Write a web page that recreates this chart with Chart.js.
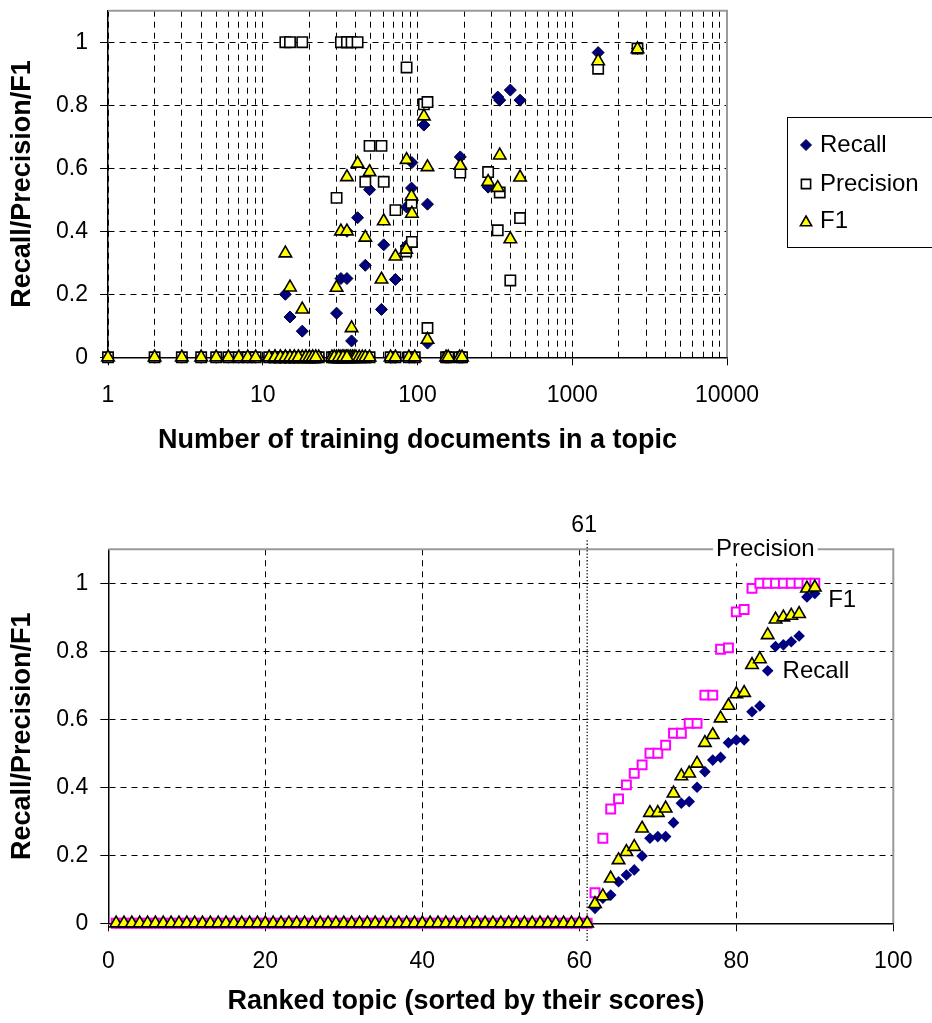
<!DOCTYPE html>
<html>
<head>
<meta charset="utf-8">
<script src="https://cdn.jsdelivr.net/npm/chart.js@4.4.1/dist/chart.umd.min.js"></script>
<style>
html,body{margin:0;padding:0;background:#fff;}
#c1{position:absolute;left:0;top:0;}
#c2{position:absolute;left:0;top:500px;}
</style>
</head>
<body>
<canvas id="c1" width="932" height="470"></canvas>
<canvas id="c2" width="932" height="523"></canvas>
<script>
// ---------- DATA: top chart (one entry per topic, 90 topics) ----------
const topicDocs = [
  1,2,3,4,5,6,7,8,9,11,
  12,13,14,15,16,17,18,19,20,21,22,23,
  12,13,14,15,16,17,19,20,21,22,
  28,29,30,31,32,33,34,35,36,37,38,39,40,42,44,46,49,
  29,31,33,35,
  67,72,88,96,153,158,187,194,
  14,15,18,30,32,35,35,37.5,41,46,49,58.5,60.5,72,85,84.5,92,91.5,110,116,116,189,286,340,330,398,460,1470,2640
];
const topicRecall = [
  0,0,0,0,0,0,0,0,0,0, 0,0,0,0,0,0,0,0,0,0, 0,0,0,0,0,0,0,0,0,0,
  0,0,0,0,0,0,0,0,0,0, 0,0,0,0,0,0,0,0,0,0, 0,0,0,0,0,0,0,0,0,0, 0,
  0.2,0.128,0.083,0.14,0.25,0.25,0.4,0.052,0.443,0.292,0.532,0.152,0.357,0.247,0.477,0.353,0.618,0.537,0.737,0.486,0.045,0.636,0.54,0.816,0.826,0.848,0.816,0.967,0.98
];
const topicPrecision = [
  0,0,0,0,0,0,0,0,0,0, 0,0,0,0,0,0,0,0,0,0, 0,0,0,0,0,0,0,0,0,0,
  0,0,0,0,0,0,0,0,0,0, 0,0,0,0,0,0,0,0,0,0, 0,0,0,0,0,0,0,0,0,0, 0,
  1,1,1,0.506,1,1,1,1,1,0.557,0.671,0.671,0.557,0.467,0.92,0.336,0.366,0.49,0.803,0.81,0.093,0.586,0.588,0.523,0.403,0.244,0.442,0.916,0.98
];
const topicF1 = [
  0,0,0,0,0,0,0,0,0,0, 0,0,0,0,0,0,0,0,0,0, 0,0,0,0,0,0,0,0,0,0,
  0,0,0,0,0,0,0,0,0,0, 0,0,0,0,0,0,0,0,0,0, 0,0,0,0,0,0,0,0,0,0, 0,
  0.33,0.222,0.152,0.221,0.4,0.4,0.572,0.093,0.615,0.38,0.588,0.247,0.432,0.32,0.627,0.342,0.456,0.511,0.765,0.604,0.056,0.608,0.557,0.641,0.538,0.375,0.571,0.94,0.978
];
const logGridValues = [1,2,3,4,5,6,7,8,9,10,20,30,40,50,60,70,80,90,100,200,300,400,500,600,700,800,900,1000,2000,3000,4000,5000,6000,7000,8000,9000,10000];
const logLabelValues = [1,10,100,1000,10000];
const logLabelTexts = ['1','10','100','1000','10000'];

// ---------- DATA: bottom chart (scores sorted separately, rank 1..90) ----------
const rankedRecall = [
  0,0,0,0,0,0,0,0,0,0, 0,0,0,0,0,0,0,0,0,0, 0,0,0,0,0,0,0,0,0,0,
  0,0,0,0,0,0,0,0,0,0, 0,0,0,0,0,0,0,0,0,0, 0,0,0,0,0,0,0,0,0,0, 0,
  0.044,0.074,0.083,0.122,0.142,0.157,0.198,0.25,0.255,0.255,0.296,0.353,0.358,0.4,0.446,0.48,0.488,0.531,0.539,0.539,0.622,0.639,0.743,0.814,0.819,0.828,0.845,0.96,0.97
];
const rankedPrecision = [
  0,0,0,0,0,0,0,0,0,0, 0,0,0,0,0,0,0,0,0,0, 0,0,0,0,0,0,0,0,0,0,
  0,0,0,0,0,0,0,0,0,0, 0,0,0,0,0,0,0,0,0,0, 0,0,0,0,0,0,0,0,0,0, 0,
  0.09,0.25,0.336,0.366,0.407,0.441,0.466,0.5,0.5,0.524,0.559,0.559,0.588,0.588,0.671,0.671,0.806,0.81,0.916,0.923,0.985,1,1,1,1,1,1,1,1
];
const rankedF1 = [
  0,0,0,0,0,0,0,0,0,0, 0,0,0,0,0,0,0,0,0,0, 0,0,0,0,0,0,0,0,0,0,
  0,0,0,0,0,0,0,0,0,0, 0,0,0,0,0,0,0,0,0,0, 0,0,0,0,0,0,0,0,0,0, 0,
  0.057,0.08,0.132,0.186,0.21,0.225,0.279,0.325,0.325,0.338,0.382,0.433,0.441,0.47,0.531,0.554,0.603,0.64,0.674,0.678,0.76,0.777,0.848,0.894,0.9,0.905,0.91,0.985,0.988
];
const rankTickValues = [0,20,40,60,80,100];
const rankTickLabels = ['0','20','40','60','80','100'];
const cutoffRank = 61;

const yTickValues = [0,0.2,0.4,0.6,0.8,1];
const yTickLabels = ['0','0.2','0.4','0.6','0.8','1'];
const seriesNames = ['Recall','Precision','F1'];

// ---------- helpers ----------
const FONT = '"Liberation Sans", Arial, Helvetica, sans-serif';
const toPoints = (xs, ys) => xs.map((x, i) => ({x: x, y: ys[i]}));
const fixW = w => s => { s.width = w; s.paddingTop = 0; s.paddingBottom = 0; s.paddingLeft = 0; s.paddingRight = 0; };
const fixH = h => s => { s.height = h; s.paddingTop = 0; s.paddingBottom = 0; s.paddingLeft = 0; s.paddingRight = 0; };
const labelFrom = (vals, texts) => (v) => { const k = vals.indexOf(v); return k >= 0 ? texts[k] : ''; };

function marker(ctx, style, x, y, r, fill, stroke, lw) {
  ctx.save();
  ctx.beginPath();
  if (style === 'rectRot') {
    ctx.moveTo(x - r, y); ctx.lineTo(x, y - r); ctx.lineTo(x + r, y); ctx.lineTo(x, y + r);
  } else if (style === 'rect') {
    const s = r * Math.SQRT1_2;
    ctx.rect(x - s, y - s, 2 * s, 2 * s);
  } else {
    ctx.moveTo(x, y - r);
    ctx.lineTo(x + r * Math.sin(2 * Math.PI / 3), y - r * Math.cos(2 * Math.PI / 3));
    ctx.lineTo(x + r * Math.sin(4 * Math.PI / 3), y - r * Math.cos(4 * Math.PI / 3));
  }
  ctx.closePath();
  ctx.fillStyle = fill; ctx.fill();
  if (lw > 0) { ctx.lineWidth = lw; ctx.strokeStyle = stroke; ctx.stroke(); }
  ctx.restore();
}

const framePlugin = {
  id: 'frame',
  beforeDatasetsDraw(chart) {
    const a = chart.chartArea, ctx = chart.ctx;
    ctx.save();
    ctx.strokeStyle = '#9a9a9a';
    ctx.lineWidth = 2;
    ctx.beginPath();
    ctx.moveTo(a.left, a.top); ctx.lineTo(a.right, a.top); ctx.lineTo(a.right, a.bottom);
    ctx.stroke();
    ctx.restore();
  }
};

const boxLegend = {
  id: 'boxLegend',
  afterDraw(chart) {
    const ctx = chart.ctx;
    ctx.save();
    ctx.strokeStyle = '#000';
    ctx.lineWidth = 1;
    ctx.strokeRect(787.5, 117.5, 160, 130);
    ctx.font = '24px ' + FONT;
    ctx.fillStyle = '#000';
    ctx.textBaseline = 'middle';
    ctx.textAlign = 'left';
    const rows = [145, 184, 221];
    chart.data.datasets.forEach((ds, i) => {
      const y = rows[i];
      const r = ds.pointStyle === 'rect' ? 6.5 : (ds.pointStyle === 'triangle' ? 6.5 : 5.5);
      marker(ctx, ds.pointStyle, 806, ds.pointStyle === 'triangle' ? y + 1.5 : y, r, ds.backgroundColor, ds.borderColor, ds.borderWidth);
      ctx.fillStyle = '#000';
      ctx.fillText(ds.label, 820, y);
    });
    ctx.restore();
  }
};

const gridCommon = {color: '#000', lineWidth: 1, tickLength: 8, tickColor: '#000', tickWidth: 1};
const borderCommon = {color: '#000', width: 1.5, dash: [6, 5]};
const tickFont = {family: FONT, size: 23};
const titleFont = {family: FONT, size: 27, weight: 'bold'};

// ---------- TOP CHART ----------
new Chart(document.getElementById('c1'), {
  type: 'scatter',
  data: {
    datasets: [
      {label: seriesNames[0], data: toPoints(topicDocs, topicRecall), pointStyle: 'rectRot', radius: 6, backgroundColor: '#000080', borderColor: '#00002a', borderWidth: 1, order: 3, clip: false},
      {label: seriesNames[1], data: toPoints(topicDocs, topicPrecision), pointStyle: 'rect', radius: 7.3, backgroundColor: '#ffffff', borderColor: '#000000', borderWidth: 1.6, order: 2, clip: false},
      {label: seriesNames[2], data: toPoints(topicDocs, topicF1), pointStyle: 'triangle', radius: 7.2, backgroundColor: '#ffff00', borderColor: '#000000', borderWidth: 1.6, order: 1, clip: false}
    ]
  },
  options: {
    responsive: false, animation: false, devicePixelRatio: 1,
    layout: {padding: {left: 0, top: 10.7, right: 205, bottom: 0}},
    plugins: {legend: {display: false}, tooltip: {enabled: false}},
    elements: {point: {hoverRadius: 0}},
    scales: {
      x: {
        type: 'logarithmic', position: 'bottom', min: 1, max: 10000,
        afterBuildTicks: s => { s.ticks = logGridValues.map(v => ({value: v})); },
        afterFit: fixH(112.7),
        ticks: {autoSkip: false, maxRotation: 0, minRotation: 0, padding: 17, color: '#000', font: tickFont,
                callback: labelFrom(logLabelValues, logLabelTexts)},
        grid: Object.assign({}, gridCommon, {tickColor: c => (c.tick && logLabelValues.indexOf(c.tick.value) >= 0) ? '#000' : 'rgba(0,0,0,0)'}),
        border: borderCommon,
        title: {display: true, text: 'Number of training documents in a topic', color: '#000', font: titleFont, padding: {top: 0, bottom: 13}}
      },
      y: {
        type: 'linear', position: 'left', min: 0, max: 1.1,
        afterBuildTicks: s => { s.ticks = yTickValues.map(v => ({value: v})); },
        afterFit: fixW(108),
        ticks: {padding: 12, color: '#000', font: tickFont, callback: labelFrom(yTickValues, yTickLabels)},
        grid: gridCommon,
        border: borderCommon,
        title: {display: true, text: 'Recall/Precision/F1', color: '#000', font: titleFont, padding: {top: 6.8, bottom: 0}}
      }
    }
  },
  plugins: [framePlugin, boxLegend]
});

// ---------- BOTTOM CHART ----------
const rankNotes = {
  id: 'rankNotes',
  beforeDatasetsDraw(chart) {
    const a = chart.chartArea, ctx = chart.ctx;
    const xs = chart.scales.x;
    const xc = xs.getPixelForValue(cutoffRank);
    ctx.save();
    ctx.strokeStyle = '#000';
    ctx.lineWidth = 1.3;
    ctx.setLineDash([1.3, 2]);
    ctx.beginPath();
    ctx.moveTo(xc, a.top - 9);
    ctx.lineTo(xc, a.bottom + 18);
    ctx.stroke();
    ctx.restore();
  },
  afterDraw(chart) {
    const a = chart.chartArea, ctx = chart.ctx;
    const xs = chart.scales.x, ys = chart.scales.y;
    const xc = xs.getPixelForValue(cutoffRank);
    ctx.save();
    ctx.fillStyle = '#000';
    ctx.textBaseline = 'middle';
    ctx.font = '23px ' + FONT;
    ctx.textAlign = 'center';
    ctx.fillText(String(cutoffRank), xc - 3, a.top - 24);
    ctx.font = '24px ' + FONT;
    const px = xs.getPixelForValue(83.7);
    const w = ctx.measureText(seriesNames[1]).width;
    ctx.fillStyle = '#fff';
    ctx.fillRect(px - w / 2 - 3, a.top - 14, w + 6, 28);
    ctx.fillStyle = '#000';
    ctx.fillText(seriesNames[1], px, a.top);
    ctx.textAlign = 'left';
    ctx.fillText(seriesNames[2], xs.getPixelForValue(91.7), ys.getPixelForValue(0.951));
    ctx.fillText(seriesNames[0], xs.getPixelForValue(85.9), ys.getPixelForValue(0.74));
    ctx.restore();
  }
};

const rankIdx = rankedRecall.map((v, i) => i + 1);

new Chart(document.getElementById('c2'), {
  type: 'scatter',
  data: {
    datasets: [
      {label: seriesNames[0], data: toPoints(rankIdx, rankedRecall), pointStyle: 'rectRot', radius: 5.8, backgroundColor: '#000080', borderColor: '#000080', borderWidth: 0, order: 3, clip: false},
      {label: seriesNames[1], data: toPoints(rankIdx, rankedPrecision), pointStyle: 'rect', radius: 6.3, backgroundColor: '#ffffff', borderColor: '#ff00ff', borderWidth: 2, order: 2, clip: false},
      {label: seriesNames[2], data: toPoints(rankIdx, rankedF1), pointStyle: 'triangle', radius: 7.2, backgroundColor: '#ffff00', borderColor: '#000000', borderWidth: 1.6, order: 1, clip: false}
    ]
  },
  options: {
    responsive: false, animation: false, devicePixelRatio: 1,
    layout: {padding: {left: 0, top: 49.3, right: 0, bottom: 0}},
    plugins: {
      legend: {display: false}, tooltip: {enabled: false},
      title: {display: true, position: 'bottom', text: 'Ranked topic (sorted by their scores)', color: '#000', font: titleFont, padding: {top: 0, bottom: 5}}
    },
    elements: {point: {hoverRadius: 0}},
    scales: {
      x: {
        type: 'linear', position: 'bottom', min: 0, max: 100,
        afterBuildTicks: s => { s.ticks = rankTickValues.map(v => ({value: v})); },
        afterFit: fixH(62.3),
        ticks: {autoSkip: false, maxRotation: 0, minRotation: 0, padding: 17, color: '#000', font: tickFont,
                callback: labelFrom(rankTickValues, rankTickLabels)},
        grid: gridCommon,
        border: borderCommon
      },
      y: {
        type: 'linear', position: 'left', min: 0, max: 1.1,
        afterBuildTicks: s => { s.ticks = yTickValues.map(v => ({value: v})); },
        afterFit: fixW(108.3),
        ticks: {padding: 12, color: '#000', font: tickFont, callback: labelFrom(yTickValues, yTickLabels)},
        grid: gridCommon,
        border: borderCommon,
        title: {display: true, text: 'Recall/Precision/F1', color: '#000', font: titleFont, padding: {top: 6.8, bottom: 0}}
      },
      yR: {
        type: 'linear', position: 'right', display: true,
        afterFit: fixW(38.7),
        ticks: {display: false},
        grid: {display: false, drawTicks: false},
        border: {display: false}
      }
    }
  },
  plugins: [framePlugin, rankNotes]
});
</script>
</body>
</html>
